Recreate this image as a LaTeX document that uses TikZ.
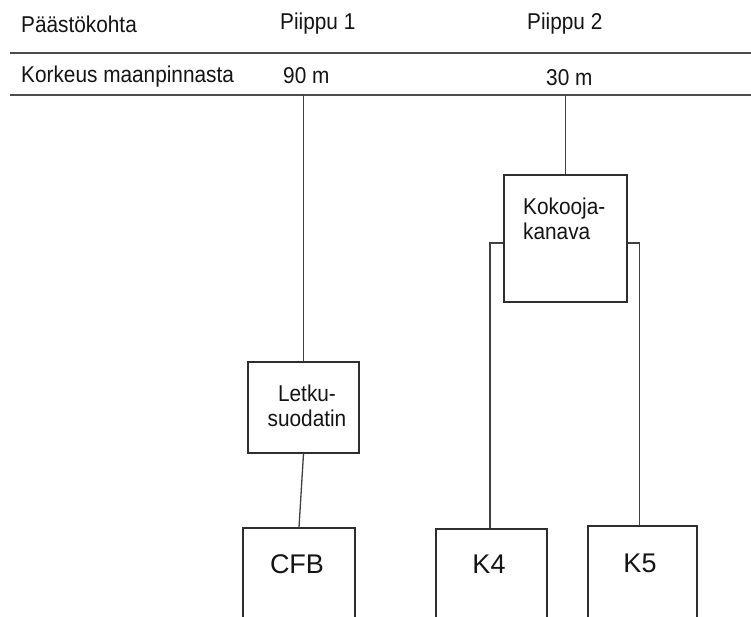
\documentclass[tikz,border=0pt]{standalone}
\usepackage{fontspec}
\usepackage{graphicx}
\setmainfont{Liberation Sans}
\newcommand\tallt[1]{\scalebox{1}[1.1]{#1}}
\begin{document}
\begin{tikzpicture}[x=1pt,y=-1pt,
  rule/.style={line width=1.8pt, draw=black!70},
  box/.style={draw=black!82, line width=1.3pt, rectangle, inner sep=0pt},
  conn/.style={draw=black!75, line width=1.3pt},
  lbl/.style={font=\fontsize{20.8}{25}\selectfont, inner sep=0pt, text=black!92},
  big/.style={font=\fontsize{27}{30}\selectfont, inner sep=0pt, text=black!92}]
\clip (0,0) rectangle (751,616);
\useasboundingbox (0,0) rectangle (751,616);
% header texts
\node[lbl, anchor=base west] (h1) at (21,32) {\tallt{Päästökohta}};
\node[lbl, anchor=base west] (h2) at (280,29) {\tallt{Piippu 1}};
\node[lbl, anchor=base west] (h3) at (527,29) {\tallt{Piippu 2}};
\node[lbl, anchor=base west] (h4) at (21,82) {\tallt{Korkeus maanpinnasta}};
\node[lbl, anchor=base west] (h5) at (283,83) {\tallt{90 m}};
\node[lbl, anchor=base west] (h6) at (546,85) {\tallt{30 m}};
% rules
\coordinate (r1a) at (10,53); \coordinate (r1b) at (751,53);
\coordinate (r2a) at (10,95); \coordinate (r2b) at (751,95);
\draw[rule] (r1a) -- (r1b);
\draw[rule] (r2a) -- (r2b);
% boxes
\node[box, minimum width=111pt, minimum height=91pt] (letku) at (303.5,407.5) {};
\node[lbl, anchor=base] (letkuA) at (307,401) {\tallt{Letku-}};
\node[lbl, anchor=base] (letkuB) at (307,426) {\tallt{suodatin}};
\node[box, minimum width=123pt, minimum height=127pt] (kok) at (565.5,238.5) {};
\node[lbl, anchor=base west] (kokA) at (523,214) {\tallt{Kokooja-}};
\node[lbl, anchor=base west] (kokB) at (523,239) {\tallt{kanava}};
\node[box, minimum width=112pt, minimum height=112pt] (cfb) at (299,584) {};
\node[big, anchor=base] (cfbT) at (297,573) {CFB};
\node[box, minimum width=111pt, minimum height=111pt] (k4) at (491.5,584.5) {};
\node[big, anchor=base] (k4T) at (489,573) {K4};
\node[box, minimum width=109pt, minimum height=111pt] (k5) at (642.5,581.5) {};
\node[big, anchor=base] (k5T) at (640,572) {K5};
% connectors
\draw[conn] (letku.north |- r2a) -- (letku.north);
\draw[conn] (letku.south) -- (cfb.north);
\draw[conn] (kok.north |- r2a) -- (kok.north);
\draw[conn] ([yshift=-4.5pt]kok.west) -| ([xshift=-1.5pt]k4.north);
\draw[conn] ([yshift=-4.5pt]kok.east) -| ([xshift=-3pt]k5.north);
\end{tikzpicture}
\end{document}
